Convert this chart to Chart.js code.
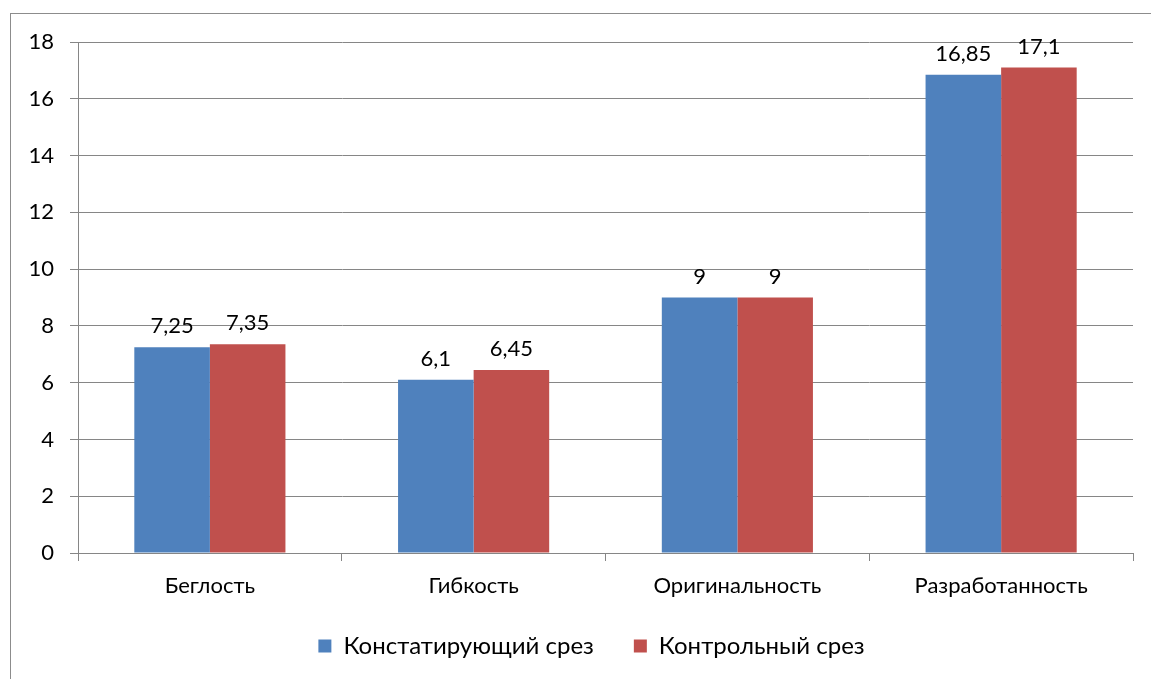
<!DOCTYPE html>
<html>
<head>
<meta charset="utf-8">
<script src="https://cdn.jsdelivr.net/npm/chart.js@4"></script>
<style>
html, body { margin: 0; padding: 0; background: #fff; }
#wrap { width: 1151px; height: 679px; position: relative; }
</style>
</head>
<body>
<div id="wrap"><canvas id="chart" width="1151" height="679"></canvas></div>
<script>
'use strict'

var categories = ['Беглость', 'Гибкость', 'Оригинальность', 'Разработанность'];
var seriesNames = ['Констатирующий срез', 'Контрольный срез'];
var ascertaining = [7.25, 6.1, 9, 16.85];
var control = [7.35, 6.45, 9, 17.1];
var yTicks = [0, 2, 4, 6, 8, 10, 12, 14, 16, 18];

var FONT = 'Lato';

// outer frame of the chart object
var framePlugin = {
	id: 'frame',
	beforeDraw: function(chart) {
		var c = chart.ctx;
		c.save();
		c.strokeStyle = '#8c8c8c';
		c.lineWidth = 1;
		c.strokeRect(10.5, 13.5, 1200, 800);
		c.restore();
	}
};

// nudge the legend: a bit right and up, like the original
var legendShift = {
	id: 'legendShift',
	afterLayout: function(chart) {
		var lg = chart.legend;
		lg.left += 50;
		lg.top -= 9;
		lg.bottom -= 9;
	}
};

// value labels above the bars, comma as decimal sign
var valuePlugin = {
	id: 'values',
	afterDatasetsDraw: function(chart) {
		var c = chart.ctx;
		c.save();
		c.font = '22px ' + FONT;
		c.fillStyle = '#000';
		c.textAlign = 'center';
		c.textBaseline = 'bottom';
		chart.data.datasets.forEach(function(ds, di) {
			chart.getDatasetMeta(di).data.forEach(function(bar, i) {
				var txt = String(ds.data[i]).replace('.', ',');
				c.fillText(txt, bar.x, bar.y - 10);
			});
		});
		c.restore();
	}
};

window.onload = function() {
	var ctx = document.getElementById('chart').getContext('2d');

	var myChart = new Chart(ctx, {
		type: 'bar',
		data: {
			labels: categories,
			datasets: [{
				label: seriesNames[0],
				data: ascertaining,
				backgroundColor: '#4F81BD',
				borderWidth: 0
			}, {
				label: seriesNames[1],
				data: control,
				backgroundColor: '#C0504D',
				borderWidth: 0
			}]
		},
		options: {
			responsive: false,
			animation: false,
			layout: { padding: { left: 0, top: 42, right: 18, bottom: 2 } },
			datasets: { bar: { categoryPercentage: 0.573, barPercentage: 1 } },
			plugins: {
				legend: {
					position: 'bottom',
					labels: {
						font: { family: FONT, size: 24 },
						color: '#000',
						boxWidth: 13,
						boxHeight: 13,
						padding: 40
					}
				},
				tooltip: { enabled: false }
			},
			scales: {
				x: {
					grid: {
						offset: true,
						drawOnChartArea: false,
						color: '#868686',
						tickLength: 8
					},
					border: { color: '#868686' },
					ticks: {
						font: { family: FONT, size: 22 },
						color: '#000',
						padding: 12
					},
					afterFit: function(scale) { scale.height = 50; }
				},
				y: {
					min: 0,
					max: 18,
					afterBuildTicks: function(scale) {
						scale.ticks = yTicks.map(function(v) { return { value: v }; });
					},
					grid: { color: '#868686', tickLength: 8 },
					border: { color: '#868686' },
					ticks: {
						font: { family: FONT, size: 22 },
						color: '#000',
						padding: 16
					},
					afterFit: function(scale) { scale.width = 78; }
				}
			}
		},
		plugins: [framePlugin, legendShift, valuePlugin]
	});
};
</script>
</body>
</html>
